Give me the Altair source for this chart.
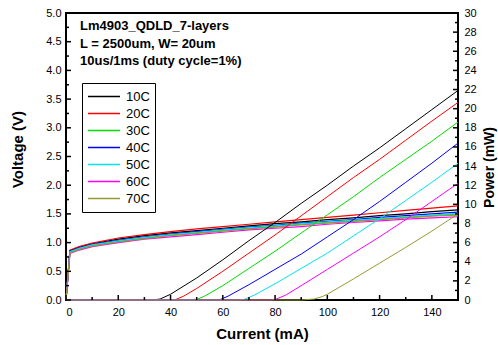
import altair as alt
import pandas as pd

# ---- series labels and colours ----
temps = ["10C", "20C", "30C", "40C", "50C", "60C", "70C"]
colors = ["#000000", "#ff0000", "#00dd00", "#0000ff", "#00e5ee", "#ff00ff", "#999933"]

# ---- I-V curves (left axis, volts) ----
iv_current = [0, 1.5, 5, 10, 20, 30, 40, 50, 60, 70, 80, 90, 100, 110, 120, 130, 140, 150]
iv_voltage = {
    "10C": [0, 0.86, 0.92, 0.98, 1.06, 1.12, 1.17, 1.21, 1.25, 1.29, 1.33, 1.36, 1.40, 1.43, 1.47, 1.50, 1.54, 1.57],
    "20C": [0, 0.87, 0.93, 0.99, 1.08, 1.14, 1.19, 1.24, 1.28, 1.32, 1.36, 1.40, 1.44, 1.48, 1.52, 1.56, 1.60, 1.64],
    "30C": [0, 0.83, 0.89, 0.95, 1.02, 1.08, 1.13, 1.17, 1.21, 1.25, 1.28, 1.32, 1.35, 1.38, 1.41, 1.44, 1.47, 1.50],
    "40C": [0, 0.85, 0.91, 0.97, 1.04, 1.10, 1.15, 1.19, 1.23, 1.27, 1.30, 1.34, 1.37, 1.40, 1.44, 1.47, 1.50, 1.53],
    "50C": [0, 0.84, 0.90, 0.96, 1.03, 1.09, 1.14, 1.18, 1.22, 1.26, 1.29, 1.33, 1.36, 1.39, 1.42, 1.45, 1.48, 1.51],
    "60C": [0, 0.81, 0.87, 0.93, 1.00, 1.06, 1.10, 1.14, 1.18, 1.22, 1.25, 1.28, 1.32, 1.35, 1.38, 1.41, 1.43, 1.45],
    "70C": [0, 0.82, 0.88, 0.94, 1.01, 1.07, 1.12, 1.16, 1.20, 1.24, 1.27, 1.31, 1.34, 1.37, 1.40, 1.43, 1.46, 1.48],
}

# ---- L-I curves (right axis, mW) ----
li_current = {
    "10C": [0, 33, 36, 40, 50, 60, 70, 80, 90, 100, 110, 120, 130, 140, 150],
    "20C": [0, 40, 42, 45, 50, 60, 70, 80, 90, 100, 110, 120, 130, 140, 150],
    "30C": [0, 48, 50, 53, 60, 70, 80, 90, 100, 110, 120, 130, 140, 150],
    "40C": [0, 57, 59, 62, 70, 80, 90, 100, 110, 120, 130, 140, 150],
    "50C": [0, 66, 68, 72, 80, 90, 100, 110, 120, 130, 140, 150],
    "60C": [0, 78, 80, 84, 90, 100, 110, 120, 130, 140, 150],
    "70C": [0, 90, 95, 98, 100, 110, 120, 130, 140, 150],
}
li_power = {
    "10C": [0, 0, 0.1, 0.6, 2.3, 4.2, 6.2, 8.1, 10.1, 12.0, 14.0, 15.9, 17.9, 19.9, 21.9],
    "20C": [0, 0, 0.05, 0.4, 1.2, 3.0, 4.9, 6.8, 8.8, 10.8, 12.8, 14.7, 16.7, 18.7, 20.65],
    "30C": [0, 0, 0.05, 0.4, 1.5, 3.3, 5.1, 7.0, 8.9, 10.8, 12.8, 14.7, 16.6, 18.6],
    "40C": [0, 0, 0.05, 0.4, 1.6, 3.2, 4.8, 6.6, 8.4, 10.3, 12.3, 14.3, 16.4],
    "50C": [0, 0, 0.05, 0.5, 1.7, 3.3, 4.9, 6.7, 8.5, 10.4, 12.3, 14.3],
    "60C": [0, 0, 0.05, 0.5, 1.5, 3.2, 4.9, 6.6, 8.4, 10.3, 12.2],
    "70C": [0, 0, 0.1, 0.35, 0.6, 2.2, 3.85, 5.5, 7.2, 9.0],
}

# ---- axis tick positions ----
x_major = [0, 20, 40, 60, 80, 100, 120, 140]
x_minor = [10, 30, 50, 70, 90, 110, 130, 150]
v_major = [0, 0.5, 1.0, 1.5, 2.0, 2.5, 3.0, 3.5, 4.0, 4.5, 5.0]
v_minor = [0.25, 0.75, 1.25, 1.75, 2.25, 2.75, 3.25, 3.75, 4.25, 4.75]
p_major = [0, 2, 4, 6, 8, 10, 12, 14, 16, 18, 20, 22, 24, 26, 28, 30]
p_minor = [1, 3, 5, 7, 9, 11, 13, 15, 17, 19, 21, 23, 25, 27, 29]

notes = ["Lm4903_QDLD_7-layers", "L = 2500um, W= 20um", "10us/1ms (duty cycle=1%)"]

W, H = 392, 287
FONT = "Liberation Sans"
MAJOR, MINOR = 5, 3

iv_df = pd.DataFrame([
    {"temp": t, "I": i, "V": v}
    for t in temps
    for i, v in zip(iv_current, iv_voltage[t])
])
li_df = pd.DataFrame([
    {"temp": t, "I": i, "P": p}
    for t in temps
    for i, p in zip(li_current[t], li_power[t])
])

x_scale = alt.Scale(domain=[0, 150], nice=False, zero=False)
v_scale = alt.Scale(domain=[0, 5], nice=False)
p_scale = alt.Scale(domain=[0, 30], nice=False)

x_axis = alt.Axis(
    title="Current (mA)",
    values=x_major,
    format="d",
    ticks=False,
    domain=False,
    grid=False,
    labelPadding=6,
    titleY=33,
    titleBaseline="middle",
)

color = alt.Color(
    "temp:N",
    scale=alt.Scale(domain=temps, range=colors),
    legend=alt.Legend(
        title=None,
        orient="none",
        legendX=16,
        legendY=70,
        symbolType="stroke",
        symbolSize=1024,
        symbolStrokeWidth=1.5,
        labelFont=FONT,
        labelFontSize=13,
        labelColor="black",
        labelOffset=5,
        clipHeight=17,
        rowPadding=0,
        padding=5,
        strokeColor="black",
    ),
)

iv_lines = alt.Chart(iv_df).mark_line(strokeWidth=1.2).encode(
    x=alt.X("I:Q", scale=x_scale, axis=x_axis),
    y=alt.Y(
        "V:Q",
        scale=v_scale,
        axis=alt.Axis(
            title="Voltage (V)",
            orient="left",
            values=v_major,
            format=".1f",
            ticks=False,
            domain=False,
            grid=False,
            labelPadding=5,
            titleX=-49,
            titleY=136,
            titleAngle=270,
            titleAlign="center",
            titleBaseline="middle",
        ),
    ),
    color=color,
    detail="temp:N",
    order="I:Q",
)

li_lines = alt.Chart(li_df).mark_line(strokeWidth=1.0).encode(
    x=alt.X("I:Q", scale=x_scale, axis=x_axis),
    y=alt.Y(
        "P:Q",
        scale=p_scale,
        axis=alt.Axis(
            title="Power (mW)",
            orient="right",
            values=p_major,
            format="d",
            ticks=False,
            domain=False,
            grid=False,
            labelPadding=6,
            titleX=31,
            titleY=154,
            titleFontSize=14,
            titleAngle=270,
            titleAlign="center",
            titleBaseline="middle",
        ),
    ),
    color=alt.Color("temp:N", scale=alt.Scale(domain=temps, range=colors)),
    detail="temp:N",
    order="I:Q",
)


def vals(v):
    return pd.DataFrame({"v": v})


# inward-pointing ticks drawn as short rules against the frame
def y_ticks(values, scale, x0, x1):
    return alt.Chart(vals(values)).mark_rule(color="black", strokeWidth=1.5).encode(
        y=alt.Y("v:Q", scale=scale, axis=None),
        x=alt.value(x0),
        x2=alt.value(x1),
    )


def x_ticks(values, length):
    return alt.Chart(vals(values)).mark_rule(color="black", strokeWidth=1.5).encode(
        x=alt.X("v:Q", scale=x_scale, axis=x_axis),
        y=alt.value(H),
        y2=alt.value(H - length),
    )


tick_layers = [
    y_ticks(v_major, v_scale, 0, MAJOR),
    y_ticks(v_minor, v_scale, 0, MINOR),
    y_ticks(p_major, p_scale, W - MAJOR, W),
    y_ticks(p_minor, p_scale, W - MINOR, W),
    x_ticks(x_major, MAJOR),
    x_ticks(x_minor, MINOR),
]

note = alt.Chart(pd.DataFrame({"t": [0]})).mark_text(
    align="left",
    baseline="top",
    font=FONT,
    fontSize=13,
    fontWeight="bold",
    color="black",
    lineHeight=17.5,
    text=notes,
).encode(x=alt.value(14), y=alt.value(7))

chart = (
    alt.layer(iv_lines, li_lines, *tick_layers, note)
    .resolve_scale(y="independent")
    .properties(
        width=W,
        height=H,
        autosize=alt.AutoSizeParams(type="none"),
        padding={"left": 66, "top": 13, "right": 40, "bottom": 45},
    )
    .configure_view(stroke="black", strokeWidth=2)
    .configure_legend(strokeWidth=1)
    .configure_axis(
        labelFont=FONT,
        labelFontSize=11,
        labelColor="black",
        titleFont=FONT,
        titleFontSize=15,
        titleFontWeight="bold",
        titleColor="black",
    )
)

chart.save("out.html", embed_options={"renderer": "svg", "actions": False})
